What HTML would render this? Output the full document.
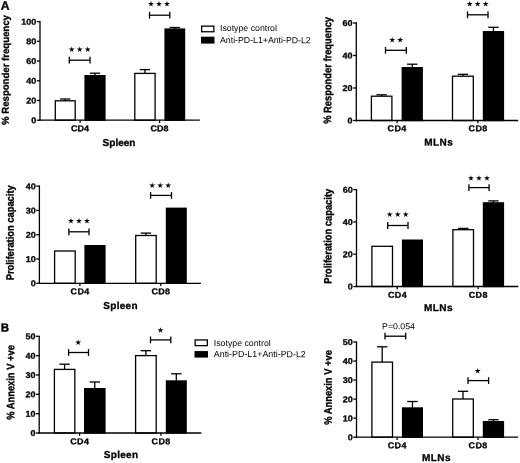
<!DOCTYPE html>
<html><head><meta charset="utf-8"><title>Figure</title>
<style>
html,body{margin:0;padding:0;background:#fff;}
body{width:520px;height:463px;overflow:hidden;}
svg{display:block;}
text{font-family:"Liberation Sans",sans-serif;fill:#000;}
text[font-weight="bold"]{stroke:#000;stroke-width:0.3px;stroke-linejoin:round;}
text.st{font-family:"DejaVu Sans",sans-serif;font-size:7.7px;letter-spacing:1.1px;}
</style></head><body>
<svg width="520" height="463" viewBox="0 0 520 463">
<rect x="0" y="0" width="520" height="463" fill="#fff"/>
<line x1="65.25" y1="99.00" x2="65.25" y2="101.30" stroke="#000" stroke-width="1.3"/>
<line x1="60.05" y1="99.00" x2="70.45" y2="99.00" stroke="#000" stroke-width="1.3"/>
<rect x="55.30" y="100.80" width="19.90" height="19.40" fill="#fff" stroke="#000" stroke-width="1.3"/>
<line x1="95.00" y1="73.20" x2="95.00" y2="75.50" stroke="#000" stroke-width="1.3"/>
<line x1="89.80" y1="73.20" x2="100.20" y2="73.20" stroke="#000" stroke-width="1.3"/>
<rect x="84.40" y="75.00" width="21.20" height="45.85" fill="#000"/>
<line x1="144.95" y1="69.60" x2="144.95" y2="73.90" stroke="#000" stroke-width="1.3"/>
<line x1="139.75" y1="69.60" x2="150.15" y2="69.60" stroke="#000" stroke-width="1.3"/>
<rect x="134.80" y="73.40" width="20.30" height="46.80" fill="#fff" stroke="#000" stroke-width="1.3"/>
<line x1="174.80" y1="27.50" x2="174.80" y2="28.90" stroke="#000" stroke-width="1.3"/>
<line x1="169.60" y1="27.50" x2="180.00" y2="27.50" stroke="#000" stroke-width="1.3"/>
<rect x="164.40" y="28.40" width="20.80" height="92.45" fill="#000"/>
<line x1="40.00" y1="20.95" x2="40.00" y2="120.85" stroke="#000" stroke-width="1.3"/>
<line x1="39.35" y1="120.20" x2="199.80" y2="120.20" stroke="#000" stroke-width="1.3"/>
<line x1="36.80" y1="120.20" x2="40.00" y2="120.20" stroke="#000" stroke-width="1.3"/>
<text transform="translate(36.30 123.25) rotate(0.1) scale(1.06 1)" font-size="8.5" font-weight="bold" text-anchor="end">0</text>
<line x1="36.80" y1="100.48" x2="40.00" y2="100.48" stroke="#000" stroke-width="1.3"/>
<text transform="translate(36.30 103.53) rotate(0.1) scale(1.06 1)" font-size="8.5" font-weight="bold" text-anchor="end">20</text>
<line x1="36.80" y1="80.76" x2="40.00" y2="80.76" stroke="#000" stroke-width="1.3"/>
<text transform="translate(36.30 83.81) rotate(0.1) scale(1.06 1)" font-size="8.5" font-weight="bold" text-anchor="end">40</text>
<line x1="36.80" y1="61.04" x2="40.00" y2="61.04" stroke="#000" stroke-width="1.3"/>
<text transform="translate(36.30 64.09) rotate(0.1) scale(1.06 1)" font-size="8.5" font-weight="bold" text-anchor="end">60</text>
<line x1="36.80" y1="41.32" x2="40.00" y2="41.32" stroke="#000" stroke-width="1.3"/>
<text transform="translate(36.30 44.37) rotate(0.1) scale(1.06 1)" font-size="8.5" font-weight="bold" text-anchor="end">80</text>
<line x1="36.80" y1="21.60" x2="40.00" y2="21.60" stroke="#000" stroke-width="1.3"/>
<text transform="translate(36.30 24.65) rotate(0.1) scale(1.06 1)" font-size="8.5" font-weight="bold" text-anchor="end">100</text>
<line x1="80.10" y1="120.20" x2="80.10" y2="123.00" stroke="#000" stroke-width="1.3"/>
<text transform="translate(80.10 131.25) rotate(0.1) scale(1.06 1)" font-size="8.5" font-weight="bold" text-anchor="middle">CD4</text>
<line x1="159.60" y1="120.20" x2="159.60" y2="123.00" stroke="#000" stroke-width="1.3"/>
<text transform="translate(159.60 131.25) rotate(0.1) scale(1.06 1)" font-size="8.5" font-weight="bold" text-anchor="middle">CD8</text>
<text transform="translate(119.00 146.00) rotate(0.1)" font-size="10" font-weight="bold" text-anchor="middle">Spleen</text>
<text transform="translate(8.90 70.00) rotate(-89.9) scale(1 1.04)" x="0" y="0" font-size="9.6" font-weight="bold" text-anchor="middle">% Responder frequency</text>
<line x1="69.30" y1="60.20" x2="90.00" y2="60.20" stroke="#000" stroke-width="1.3"/>
<line x1="69.30" y1="56.80" x2="69.30" y2="63.60" stroke="#000" stroke-width="1.3"/>
<line x1="90.00" y1="56.80" x2="90.00" y2="63.60" stroke="#000" stroke-width="1.3"/>
<text class="st" transform="translate(80.15 52.00) rotate(0.1)" text-anchor="middle">★★★</text>
<line x1="149.50" y1="15.20" x2="169.80" y2="15.20" stroke="#000" stroke-width="1.3"/>
<line x1="149.50" y1="11.80" x2="149.50" y2="18.60" stroke="#000" stroke-width="1.3"/>
<line x1="169.80" y1="11.80" x2="169.80" y2="18.60" stroke="#000" stroke-width="1.3"/>
<text class="st" transform="translate(159.55 6.60) rotate(0.1)" text-anchor="middle">★★★</text>
<line x1="381.65" y1="94.80" x2="381.65" y2="96.70" stroke="#000" stroke-width="1.3"/>
<line x1="376.45" y1="94.80" x2="386.85" y2="94.80" stroke="#000" stroke-width="1.3"/>
<rect x="371.40" y="96.20" width="20.50" height="24.30" fill="#fff" stroke="#000" stroke-width="1.3"/>
<line x1="412.25" y1="64.20" x2="412.25" y2="67.50" stroke="#000" stroke-width="1.3"/>
<line x1="407.05" y1="64.20" x2="417.45" y2="64.20" stroke="#000" stroke-width="1.3"/>
<rect x="401.60" y="67.00" width="21.30" height="54.15" fill="#000"/>
<line x1="462.90" y1="74.30" x2="462.90" y2="76.70" stroke="#000" stroke-width="1.3"/>
<line x1="457.70" y1="74.30" x2="468.10" y2="74.30" stroke="#000" stroke-width="1.3"/>
<rect x="452.50" y="76.20" width="20.80" height="44.30" fill="#fff" stroke="#000" stroke-width="1.3"/>
<line x1="493.45" y1="27.30" x2="493.45" y2="31.50" stroke="#000" stroke-width="1.3"/>
<line x1="488.25" y1="27.30" x2="498.65" y2="27.30" stroke="#000" stroke-width="1.3"/>
<rect x="482.80" y="31.00" width="21.30" height="90.15" fill="#000"/>
<line x1="356.30" y1="22.35" x2="356.30" y2="121.15" stroke="#000" stroke-width="1.3"/>
<line x1="355.65" y1="120.50" x2="518.20" y2="120.50" stroke="#000" stroke-width="1.3"/>
<line x1="353.10" y1="120.50" x2="356.30" y2="120.50" stroke="#000" stroke-width="1.3"/>
<text transform="translate(352.60 123.55) rotate(0.1) scale(1.06 1)" font-size="8.5" font-weight="bold" text-anchor="end">0</text>
<line x1="353.10" y1="88.00" x2="356.30" y2="88.00" stroke="#000" stroke-width="1.3"/>
<text transform="translate(352.60 91.05) rotate(0.1) scale(1.06 1)" font-size="8.5" font-weight="bold" text-anchor="end">20</text>
<line x1="353.10" y1="55.50" x2="356.30" y2="55.50" stroke="#000" stroke-width="1.3"/>
<text transform="translate(352.60 58.55) rotate(0.1) scale(1.06 1)" font-size="8.5" font-weight="bold" text-anchor="end">40</text>
<line x1="353.10" y1="23.00" x2="356.30" y2="23.00" stroke="#000" stroke-width="1.3"/>
<text transform="translate(352.60 26.05) rotate(0.1) scale(1.06 1)" font-size="8.5" font-weight="bold" text-anchor="end">60</text>
<line x1="397.00" y1="120.50" x2="397.00" y2="123.30" stroke="#000" stroke-width="1.3"/>
<text transform="translate(397.18 131.35) rotate(0.1) scale(1.06 1)" font-size="8.5" font-weight="bold" text-anchor="middle" letter-spacing="0.35">CD4</text>
<line x1="477.90" y1="120.50" x2="477.90" y2="123.30" stroke="#000" stroke-width="1.3"/>
<text transform="translate(478.07 131.35) rotate(0.1) scale(1.06 1)" font-size="8.5" font-weight="bold" text-anchor="middle" letter-spacing="0.35">CD8</text>
<text transform="translate(438.70 145.50) rotate(0.1)" font-size="10" font-weight="bold" text-anchor="middle" letter-spacing="0.4">MLNs</text>
<text transform="translate(331.20 70.40) rotate(-89.9) scale(1 1.15)" x="0" y="0" font-size="9.35" font-weight="bold" text-anchor="middle">% Responder frequency</text>
<line x1="385.50" y1="50.30" x2="406.30" y2="50.30" stroke="#000" stroke-width="1.3"/>
<line x1="385.50" y1="46.90" x2="385.50" y2="53.70" stroke="#000" stroke-width="1.3"/>
<line x1="406.30" y1="46.90" x2="406.30" y2="53.70" stroke="#000" stroke-width="1.3"/>
<text class="st" transform="translate(396.75 42.40) rotate(0.1)" text-anchor="middle">★★</text>
<line x1="467.50" y1="14.80" x2="488.00" y2="14.80" stroke="#000" stroke-width="1.3"/>
<line x1="467.50" y1="11.40" x2="467.50" y2="18.20" stroke="#000" stroke-width="1.3"/>
<line x1="488.00" y1="11.40" x2="488.00" y2="18.20" stroke="#000" stroke-width="1.3"/>
<text class="st" transform="translate(478.35 6.50) rotate(0.1)" text-anchor="middle">★★★</text>
<rect x="54.60" y="251.00" width="20.60" height="32.30" fill="#fff" stroke="#000" stroke-width="1.3"/>
<rect x="84.40" y="245.00" width="21.20" height="38.95" fill="#000"/>
<line x1="145.95" y1="233.10" x2="145.95" y2="236.00" stroke="#000" stroke-width="1.3"/>
<line x1="140.75" y1="233.10" x2="151.15" y2="233.10" stroke="#000" stroke-width="1.3"/>
<rect x="135.70" y="235.50" width="20.50" height="47.80" fill="#fff" stroke="#000" stroke-width="1.3"/>
<rect x="165.80" y="207.60" width="21.00" height="76.35" fill="#000"/>
<line x1="39.40" y1="185.45" x2="39.40" y2="283.95" stroke="#000" stroke-width="1.3"/>
<line x1="38.75" y1="283.30" x2="200.90" y2="283.30" stroke="#000" stroke-width="1.3"/>
<line x1="36.20" y1="283.30" x2="39.40" y2="283.30" stroke="#000" stroke-width="1.3"/>
<text transform="translate(35.70 286.35) rotate(0.1) scale(1.06 1)" font-size="8.5" font-weight="bold" text-anchor="end">0</text>
<line x1="36.20" y1="259.00" x2="39.40" y2="259.00" stroke="#000" stroke-width="1.3"/>
<text transform="translate(35.70 262.05) rotate(0.1) scale(1.06 1)" font-size="8.5" font-weight="bold" text-anchor="end">10</text>
<line x1="36.20" y1="234.70" x2="39.40" y2="234.70" stroke="#000" stroke-width="1.3"/>
<text transform="translate(35.70 237.75) rotate(0.1) scale(1.06 1)" font-size="8.5" font-weight="bold" text-anchor="end">20</text>
<line x1="36.20" y1="210.40" x2="39.40" y2="210.40" stroke="#000" stroke-width="1.3"/>
<text transform="translate(35.70 213.45) rotate(0.1) scale(1.06 1)" font-size="8.5" font-weight="bold" text-anchor="end">30</text>
<line x1="36.20" y1="186.10" x2="39.40" y2="186.10" stroke="#000" stroke-width="1.3"/>
<text transform="translate(35.70 189.15) rotate(0.1) scale(1.06 1)" font-size="8.5" font-weight="bold" text-anchor="end">40</text>
<line x1="79.90" y1="283.30" x2="79.90" y2="286.10" stroke="#000" stroke-width="1.3"/>
<text transform="translate(80.05 294.35) rotate(0.1) scale(1.06 1)" font-size="8.5" font-weight="bold" text-anchor="middle" letter-spacing="0.3">CD4</text>
<line x1="160.80" y1="283.30" x2="160.80" y2="286.10" stroke="#000" stroke-width="1.3"/>
<text transform="translate(160.95 294.35) rotate(0.1) scale(1.06 1)" font-size="8.5" font-weight="bold" text-anchor="middle" letter-spacing="0.3">CD8</text>
<text transform="translate(120.55 309.00) rotate(0.1)" font-size="10" font-weight="bold" text-anchor="middle" letter-spacing="0.3">Spleen</text>
<text transform="translate(13.80 232.80) rotate(-89.9) scale(1 1.15)" x="0" y="0" font-size="9.35" font-weight="bold" text-anchor="middle">Proliferation capacity</text>
<line x1="68.90" y1="231.80" x2="89.00" y2="231.80" stroke="#000" stroke-width="1.3"/>
<line x1="68.90" y1="228.40" x2="68.90" y2="235.20" stroke="#000" stroke-width="1.3"/>
<line x1="89.00" y1="228.40" x2="89.00" y2="235.20" stroke="#000" stroke-width="1.3"/>
<text class="st" transform="translate(79.45 223.40) rotate(0.1)" text-anchor="middle">★★★</text>
<line x1="150.60" y1="195.40" x2="171.50" y2="195.40" stroke="#000" stroke-width="1.3"/>
<line x1="150.60" y1="192.00" x2="150.60" y2="198.80" stroke="#000" stroke-width="1.3"/>
<line x1="171.50" y1="192.00" x2="171.50" y2="198.80" stroke="#000" stroke-width="1.3"/>
<text class="st" transform="translate(160.75 188.00) rotate(0.1)" text-anchor="middle">★★★</text>
<rect x="371.90" y="246.30" width="20.60" height="40.20" fill="#fff" stroke="#000" stroke-width="1.3"/>
<rect x="401.90" y="239.50" width="21.10" height="47.65" fill="#000"/>
<line x1="463.20" y1="228.40" x2="463.20" y2="230.20" stroke="#000" stroke-width="1.3"/>
<line x1="458.00" y1="228.40" x2="468.40" y2="228.40" stroke="#000" stroke-width="1.3"/>
<rect x="452.90" y="229.70" width="20.60" height="56.80" fill="#fff" stroke="#000" stroke-width="1.3"/>
<line x1="493.45" y1="200.90" x2="493.45" y2="202.70" stroke="#000" stroke-width="1.3"/>
<line x1="488.25" y1="200.90" x2="498.65" y2="200.90" stroke="#000" stroke-width="1.3"/>
<rect x="482.80" y="202.20" width="21.30" height="84.95" fill="#000"/>
<line x1="356.50" y1="188.95" x2="356.50" y2="287.15" stroke="#000" stroke-width="1.3"/>
<line x1="355.85" y1="286.50" x2="518.20" y2="286.50" stroke="#000" stroke-width="1.3"/>
<line x1="353.30" y1="286.50" x2="356.50" y2="286.50" stroke="#000" stroke-width="1.3"/>
<text transform="translate(352.80 289.55) rotate(0.1) scale(1.06 1)" font-size="8.5" font-weight="bold" text-anchor="end">0</text>
<line x1="353.30" y1="254.20" x2="356.50" y2="254.20" stroke="#000" stroke-width="1.3"/>
<text transform="translate(352.80 257.25) rotate(0.1) scale(1.06 1)" font-size="8.5" font-weight="bold" text-anchor="end">20</text>
<line x1="353.30" y1="221.90" x2="356.50" y2="221.90" stroke="#000" stroke-width="1.3"/>
<text transform="translate(352.80 224.95) rotate(0.1) scale(1.06 1)" font-size="8.5" font-weight="bold" text-anchor="end">40</text>
<line x1="353.30" y1="189.60" x2="356.50" y2="189.60" stroke="#000" stroke-width="1.3"/>
<text transform="translate(352.80 192.65) rotate(0.1) scale(1.06 1)" font-size="8.5" font-weight="bold" text-anchor="end">60</text>
<line x1="397.30" y1="286.50" x2="397.30" y2="289.30" stroke="#000" stroke-width="1.3"/>
<text transform="translate(397.48 297.65) rotate(0.1) scale(1.06 1)" font-size="8.5" font-weight="bold" text-anchor="middle" letter-spacing="0.35">CD4</text>
<line x1="478.10" y1="286.50" x2="478.10" y2="289.30" stroke="#000" stroke-width="1.3"/>
<text transform="translate(478.28 297.65) rotate(0.1) scale(1.06 1)" font-size="8.5" font-weight="bold" text-anchor="middle" letter-spacing="0.35">CD8</text>
<text transform="translate(438.50 311.00) rotate(0.1)" font-size="10" font-weight="bold" text-anchor="middle" letter-spacing="0.4">MLNs</text>
<text transform="translate(331.60 236.30) rotate(-89.9) scale(1 1.15)" x="0" y="0" font-size="9.35" font-weight="bold" text-anchor="middle">Proliferation capacity</text>
<line x1="387.70" y1="225.50" x2="408.00" y2="225.50" stroke="#000" stroke-width="1.3"/>
<line x1="387.70" y1="222.10" x2="387.70" y2="228.90" stroke="#000" stroke-width="1.3"/>
<line x1="408.00" y1="222.10" x2="408.00" y2="228.90" stroke="#000" stroke-width="1.3"/>
<text class="st" transform="translate(398.25 217.00) rotate(0.1)" text-anchor="middle">★★★</text>
<line x1="468.90" y1="187.60" x2="489.10" y2="187.60" stroke="#000" stroke-width="1.3"/>
<line x1="468.90" y1="184.20" x2="468.90" y2="191.00" stroke="#000" stroke-width="1.3"/>
<line x1="489.10" y1="184.20" x2="489.10" y2="191.00" stroke="#000" stroke-width="1.3"/>
<text class="st" transform="translate(479.45 180.80) rotate(0.1)" text-anchor="middle">★★★</text>
<line x1="64.60" y1="364.20" x2="64.60" y2="369.90" stroke="#000" stroke-width="1.3"/>
<line x1="59.40" y1="364.20" x2="69.80" y2="364.20" stroke="#000" stroke-width="1.3"/>
<rect x="54.40" y="369.40" width="20.40" height="63.60" fill="#fff" stroke="#000" stroke-width="1.3"/>
<line x1="94.80" y1="382.00" x2="94.80" y2="388.50" stroke="#000" stroke-width="1.3"/>
<line x1="89.60" y1="382.00" x2="100.00" y2="382.00" stroke="#000" stroke-width="1.3"/>
<rect x="84.00" y="388.00" width="21.60" height="45.65" fill="#000"/>
<line x1="145.90" y1="350.70" x2="145.90" y2="356.10" stroke="#000" stroke-width="1.3"/>
<line x1="140.70" y1="350.70" x2="151.10" y2="350.70" stroke="#000" stroke-width="1.3"/>
<rect x="135.60" y="355.60" width="20.60" height="77.40" fill="#fff" stroke="#000" stroke-width="1.3"/>
<line x1="176.30" y1="373.80" x2="176.30" y2="380.80" stroke="#000" stroke-width="1.3"/>
<line x1="171.10" y1="373.80" x2="181.50" y2="373.80" stroke="#000" stroke-width="1.3"/>
<rect x="165.80" y="380.30" width="21.00" height="53.35" fill="#000"/>
<line x1="39.20" y1="335.65" x2="39.20" y2="433.65" stroke="#000" stroke-width="1.3"/>
<line x1="38.55" y1="433.00" x2="201.30" y2="433.00" stroke="#000" stroke-width="1.3"/>
<line x1="36.00" y1="433.00" x2="39.20" y2="433.00" stroke="#000" stroke-width="1.3"/>
<text transform="translate(35.50 436.05) rotate(0.1) scale(1.06 1)" font-size="8.5" font-weight="bold" text-anchor="end">0</text>
<line x1="36.00" y1="413.66" x2="39.20" y2="413.66" stroke="#000" stroke-width="1.3"/>
<text transform="translate(35.50 416.71) rotate(0.1) scale(1.06 1)" font-size="8.5" font-weight="bold" text-anchor="end">10</text>
<line x1="36.00" y1="394.32" x2="39.20" y2="394.32" stroke="#000" stroke-width="1.3"/>
<text transform="translate(35.50 397.37) rotate(0.1) scale(1.06 1)" font-size="8.5" font-weight="bold" text-anchor="end">20</text>
<line x1="36.00" y1="374.98" x2="39.20" y2="374.98" stroke="#000" stroke-width="1.3"/>
<text transform="translate(35.50 378.03) rotate(0.1) scale(1.06 1)" font-size="8.5" font-weight="bold" text-anchor="end">30</text>
<line x1="36.00" y1="355.64" x2="39.20" y2="355.64" stroke="#000" stroke-width="1.3"/>
<text transform="translate(35.50 358.69) rotate(0.1) scale(1.06 1)" font-size="8.5" font-weight="bold" text-anchor="end">40</text>
<line x1="36.00" y1="336.30" x2="39.20" y2="336.30" stroke="#000" stroke-width="1.3"/>
<text transform="translate(35.50 339.35) rotate(0.1) scale(1.06 1)" font-size="8.5" font-weight="bold" text-anchor="end">50</text>
<line x1="79.60" y1="433.00" x2="79.60" y2="435.80" stroke="#000" stroke-width="1.3"/>
<text transform="translate(79.75 444.15) rotate(0.1) scale(1.06 1)" font-size="8.5" font-weight="bold" text-anchor="middle" letter-spacing="0.3">CD4</text>
<line x1="160.90" y1="433.00" x2="160.90" y2="435.80" stroke="#000" stroke-width="1.3"/>
<text transform="translate(161.05 444.15) rotate(0.1) scale(1.06 1)" font-size="8.5" font-weight="bold" text-anchor="middle" letter-spacing="0.3">CD8</text>
<text transform="translate(121.05 458.00) rotate(0.1)" font-size="10" font-weight="bold" text-anchor="middle" letter-spacing="0.3">Spleen</text>
<text transform="translate(14.20 382.50) rotate(-89.9) scale(1 1.15)" x="0" y="0" font-size="9.35" font-weight="bold" text-anchor="middle">% Annexin V +ve</text>
<line x1="68.60" y1="352.50" x2="88.50" y2="352.50" stroke="#000" stroke-width="1.3"/>
<line x1="68.60" y1="349.10" x2="68.60" y2="355.90" stroke="#000" stroke-width="1.3"/>
<line x1="88.50" y1="349.10" x2="88.50" y2="355.90" stroke="#000" stroke-width="1.3"/>
<text class="st" transform="translate(78.85 345.00) rotate(0.1)" text-anchor="middle">★</text>
<line x1="150.50" y1="339.90" x2="170.80" y2="339.90" stroke="#000" stroke-width="1.3"/>
<line x1="150.50" y1="336.50" x2="150.50" y2="343.30" stroke="#000" stroke-width="1.3"/>
<line x1="170.80" y1="336.50" x2="170.80" y2="343.30" stroke="#000" stroke-width="1.3"/>
<text class="st" transform="translate(161.05 332.70) rotate(0.1)" text-anchor="middle">★</text>
<line x1="382.20" y1="346.80" x2="382.20" y2="362.60" stroke="#000" stroke-width="1.3"/>
<line x1="377.00" y1="346.80" x2="387.40" y2="346.80" stroke="#000" stroke-width="1.3"/>
<rect x="371.90" y="362.10" width="20.60" height="75.10" fill="#fff" stroke="#000" stroke-width="1.3"/>
<line x1="412.45" y1="401.50" x2="412.45" y2="407.80" stroke="#000" stroke-width="1.3"/>
<line x1="407.25" y1="401.50" x2="417.65" y2="401.50" stroke="#000" stroke-width="1.3"/>
<rect x="401.90" y="407.30" width="21.10" height="30.55" fill="#000"/>
<line x1="463.00" y1="391.30" x2="463.00" y2="399.50" stroke="#000" stroke-width="1.3"/>
<line x1="457.80" y1="391.30" x2="468.20" y2="391.30" stroke="#000" stroke-width="1.3"/>
<rect x="452.70" y="399.00" width="20.60" height="38.20" fill="#fff" stroke="#000" stroke-width="1.3"/>
<line x1="493.45" y1="419.70" x2="493.45" y2="421.50" stroke="#000" stroke-width="1.3"/>
<line x1="488.25" y1="419.70" x2="498.65" y2="419.70" stroke="#000" stroke-width="1.3"/>
<rect x="482.80" y="421.00" width="21.30" height="16.85" fill="#000"/>
<line x1="356.50" y1="341.35" x2="356.50" y2="437.85" stroke="#000" stroke-width="1.3"/>
<line x1="355.85" y1="437.20" x2="518.20" y2="437.20" stroke="#000" stroke-width="1.3"/>
<line x1="353.30" y1="437.20" x2="356.50" y2="437.20" stroke="#000" stroke-width="1.3"/>
<text transform="translate(352.80 440.25) rotate(0.1) scale(1.06 1)" font-size="8.5" font-weight="bold" text-anchor="end">0</text>
<line x1="353.30" y1="418.16" x2="356.50" y2="418.16" stroke="#000" stroke-width="1.3"/>
<text transform="translate(352.80 421.21) rotate(0.1) scale(1.06 1)" font-size="8.5" font-weight="bold" text-anchor="end">10</text>
<line x1="353.30" y1="399.12" x2="356.50" y2="399.12" stroke="#000" stroke-width="1.3"/>
<text transform="translate(352.80 402.17) rotate(0.1) scale(1.06 1)" font-size="8.5" font-weight="bold" text-anchor="end">20</text>
<line x1="353.30" y1="380.08" x2="356.50" y2="380.08" stroke="#000" stroke-width="1.3"/>
<text transform="translate(352.80 383.13) rotate(0.1) scale(1.06 1)" font-size="8.5" font-weight="bold" text-anchor="end">30</text>
<line x1="353.30" y1="361.04" x2="356.50" y2="361.04" stroke="#000" stroke-width="1.3"/>
<text transform="translate(352.80 364.09) rotate(0.1) scale(1.06 1)" font-size="8.5" font-weight="bold" text-anchor="end">40</text>
<line x1="353.30" y1="342.00" x2="356.50" y2="342.00" stroke="#000" stroke-width="1.3"/>
<text transform="translate(352.80 345.05) rotate(0.1) scale(1.06 1)" font-size="8.5" font-weight="bold" text-anchor="end">50</text>
<line x1="397.10" y1="437.20" x2="397.10" y2="440.00" stroke="#000" stroke-width="1.3"/>
<text transform="translate(397.28 448.15) rotate(0.1) scale(1.06 1)" font-size="8.5" font-weight="bold" text-anchor="middle" letter-spacing="0.35">CD4</text>
<line x1="478.00" y1="437.20" x2="478.00" y2="440.00" stroke="#000" stroke-width="1.3"/>
<text transform="translate(478.18 448.15) rotate(0.1) scale(1.06 1)" font-size="8.5" font-weight="bold" text-anchor="middle" letter-spacing="0.35">CD8</text>
<text transform="translate(436.50 461.00) rotate(0.1)" font-size="10" font-weight="bold" text-anchor="middle" letter-spacing="0.4">MLNs</text>
<text transform="translate(331.70 387.50) rotate(-89.9) scale(1 1.15)" x="0" y="0" font-size="9.35" font-weight="bold" text-anchor="middle">% Annexin V +ve</text>
<line x1="385.00" y1="336.20" x2="405.70" y2="336.20" stroke="#000" stroke-width="1.3"/>
<line x1="385.00" y1="332.80" x2="385.00" y2="339.60" stroke="#000" stroke-width="1.3"/>
<line x1="405.70" y1="332.80" x2="405.70" y2="339.60" stroke="#000" stroke-width="1.3"/>
<text transform="translate(398.50 329.20) rotate(0.1)" font-size="8.75" font-weight="normal" text-anchor="middle">P=0.054</text>
<line x1="468.00" y1="380.60" x2="488.60" y2="380.60" stroke="#000" stroke-width="1.3"/>
<line x1="468.00" y1="377.20" x2="468.00" y2="384.00" stroke="#000" stroke-width="1.3"/>
<line x1="488.60" y1="377.20" x2="488.60" y2="384.00" stroke="#000" stroke-width="1.3"/>
<text class="st" transform="translate(478.25 373.40) rotate(0.1)" text-anchor="middle">★</text>
<text transform="translate(0.80 9.85) rotate(0.1)" font-size="12.2" font-weight="bold" text-anchor="start">A</text>
<text transform="translate(0.70 331.50) rotate(0.1)" font-size="11.6" font-weight="bold" text-anchor="start">B</text>
<rect x="201.65" y="26.15" width="12.20" height="5.60" fill="#fff" stroke="#000" stroke-width="1.3"/>
<rect x="201.65" y="37.35" width="12.20" height="5.60" fill="#000" stroke="#000" stroke-width="1.3"/>
<text transform="translate(220.00 31.00) rotate(0.1)" font-size="8.75" font-weight="normal" text-anchor="start">Isotype control</text>
<text transform="translate(220.00 43.00) rotate(0.1)" font-size="8.75" font-weight="normal" text-anchor="start">Anti-PD-L1+Anti-PD-L2</text>
<rect x="195.15" y="339.95" width="12.20" height="5.70" fill="#fff" stroke="#000" stroke-width="1.3"/>
<rect x="195.15" y="351.75" width="12.20" height="5.20" fill="#000" stroke="#000" stroke-width="1.3"/>
<text transform="translate(213.80 346.00) rotate(0.1)" font-size="8.75" font-weight="normal" text-anchor="start">Isotype control</text>
<text transform="translate(213.80 357.00) rotate(0.1)" font-size="8.9" font-weight="normal" text-anchor="start">Anti-PD-L1+Anti-PD-L2</text>
</svg>
</body></html>
